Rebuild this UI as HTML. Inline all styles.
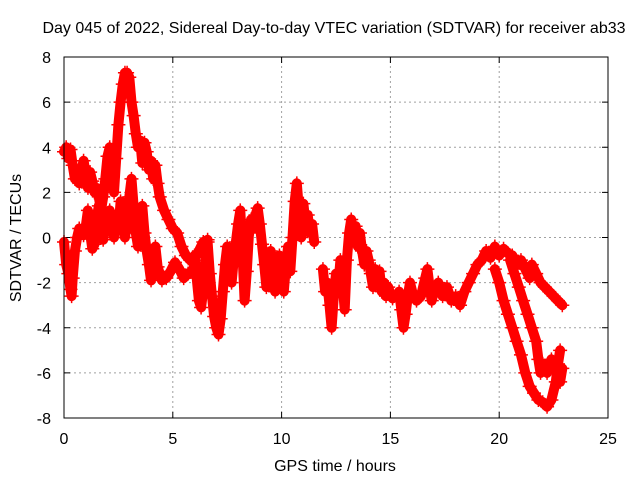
<!DOCTYPE html>
<html><head><meta charset="utf-8"><style>
body{margin:0;background:#fff;}
svg{display:block;font-family:"Liberation Sans",sans-serif;}
</style></head><body>
<svg id="chart" width="640" height="480" viewBox="0 0 640 480" xmlns="http://www.w3.org/2000/svg">
<rect x="0" y="0" width="640" height="480" fill="#fff"/>
<text x="334" y="33" text-anchor="middle" font-size="16">Day 045 of 2022, Sidereal Day-to-day VTEC variation (SDTVAR) for receiver ab33</text>
<text x="335" y="471" text-anchor="middle" font-size="16">GPS time / hours</text>
<text transform="translate(21,238) rotate(-90)" text-anchor="middle" font-size="16">SDTVAR / TECUs</text>
<g id="grid"></g><g id="ticks"></g><g id="marks"></g>
<rect x="64" y="57" width="544" height="361" fill="none" stroke="#000" stroke-width="1"/>
</svg>
<script>
const xTicks=[0,5,10,15,20,25];
const yTicks=[-8,-6,-4,-2,0,2,4,6,8];
const trace1=[[0,3.8],[0.1,4.0],[0.2,3.5],[0.3,3.9],[0.4,3.2],[0.5,2.6],[0.6,2.9],[0.7,2.4],[0.8,3.0],[0.9,3.4],[1.0,2.8],[1.1,2.2],[1.2,2.9],[1.3,2.5],[1.4,2.0],[1.5,2.2],[1.6,1.8],[1.7,1.2],[1.8,1.8],[1.9,2.6],[2.0,3.6],[2.1,4.0],[2.2,3.2],[2.3,2.0],[2.4,3.5],[2.5,5.0],[2.6,6.0],[2.7,6.8],[2.8,7.3],[2.9,7.3],[3.0,7.1],[3.1,6.0],[3.2,5.4],[3.3,4.6],[3.4,4.0],[3.5,4.3],[3.6,3.3],[3.7,4.2],[3.8,3.8],[3.9,3.0],[4.0,3.4],[4.1,2.6],[4.2,3.2],[4.3,2.4],[4.4,1.8],[4.6,1.2],[4.8,0.8],[5.0,0.4],[5.2,0.2],[5.4,-0.4],[5.6,-0.8],[5.8,-1.0],[6.0,-0.9],[6.2,-0.6],[6.4,-0.2],[6.6,-0.1]];
const trace2=[[0,-0.2],[0.1,-1.2],[0.2,-1.6],[0.3,-2.3],[0.35,-2.6],[0.4,-1.8],[0.5,-0.6],[0.6,0.0],[0.7,0.4],[0.8,0.2],[0.9,0.1],[1.0,0.5],[1.1,1.2],[1.2,0.2],[1.3,-0.5],[1.4,-0.3],[1.5,0.8],[1.6,1.4],[1.7,0.6],[1.8,-0.1],[1.9,0.8],[2.0,0.3],[2.1,1.2],[2.2,0.5],[2.3,0.0],[2.4,1.0],[2.5,0.3],[2.6,1.6],[2.7,0.8],[2.8,0.0],[2.9,0.6],[3.0,1.8],[3.1,2.6],[3.2,1.4],[3.3,0.2],[3.4,-0.4],[3.5,0.6],[3.6,1.4],[3.7,0.2],[3.8,-0.6],[3.9,-1.2],[4.0,-1.9],[4.1,-1.4],[4.2,-0.4],[4.3,-1.3],[4.5,-1.9],[4.7,-1.8],[4.9,-1.5],[5.1,-1.1],[5.3,-1.4],[5.5,-1.8],[5.7,-1.6],[5.9,-1.5],[6.0,-1.2]];
const trace3=[[6.0,-0.8],[6.1,-1.8],[6.2,-2.8],[6.3,-3.1],[6.4,-2.3],[6.5,-1.0],[6.6,-0.2],[6.7,-1.6],[6.8,-2.6],[6.9,-3.5],[7.0,-4.0],[7.1,-4.3],[7.2,-3.6],[7.3,-2.4],[7.4,-1.2],[7.5,-0.4],[7.6,-1.2],[7.7,-2.0],[7.8,-1.0],[7.9,-0.2],[8.0,0.6],[8.1,1.2],[8.2,-0.6],[8.3,-2.8],[8.4,-1.5],[8.5,0.2],[8.6,0.8],[8.7,0.4],[8.8,1.0],[8.9,1.3],[9.0,0.6],[9.1,-0.3],[9.2,-1.2],[9.3,-2.2],[9.4,-1.4],[9.5,-0.6],[9.6,-2.0],[9.7,-2.4],[9.8,-1.6],[9.9,-0.8],[10.0,-1.8],[10.1,-2.4],[10.2,-1.2],[10.3,-0.4],[10.4,-1.5],[10.5,0.0],[10.6,1.6],[10.7,2.4],[10.8,1.2],[10.9,0.0],[11.0,1.5],[11.1,0.6],[11.2,1.0],[11.3,0.2],[11.4,0.6],[11.5,-0.2]];
const trace4=[[11.9,-1.4],[12.0,-2.4],[12.1,-2.0],[12.2,-3.0],[12.3,-4.0],[12.4,-2.6],[12.5,-1.6],[12.6,-2.2],[12.7,-1.0],[12.8,-2.0],[12.9,-3.2],[13.0,-1.0],[13.1,0.2],[13.2,0.8],[13.3,0.0],[13.4,0.5],[13.5,-0.4],[13.6,0.2],[13.7,-0.6],[13.8,-1.2],[13.9,-0.6],[14.0,-1.0],[14.1,-1.6],[14.2,-2.2],[14.3,-1.4],[14.4,-2.0],[14.5,-1.5],[14.6,-2.4],[14.7,-2.0],[14.8,-2.6],[14.9,-2.2],[15.0,-2.5],[15.1,-2.7]];
const trace5=[[15.4,-2.4],[15.5,-3.2],[15.6,-4.0],[15.7,-3.4],[15.8,-2.6],[15.9,-2.0],[16.0,-2.4],[16.2,-2.8],[16.4,-2.6],[16.6,-1.8],[16.7,-1.4],[16.8,-2.2],[16.9,-2.8],[17.0,-2.4],[17.2,-2.0],[17.4,-2.6],[17.6,-2.2],[17.8,-2.8],[18.0,-2.6],[18.2,-3.0],[18.4,-2.4],[18.6,-2.0],[18.8,-1.6],[19.0,-1.2],[19.2,-1.0],[19.4,-0.6],[19.6,-0.9],[19.8,-0.4],[20.0,-0.8],[20.2,-0.5],[20.4,-0.7],[20.6,-0.8]];
const trace6=[[20.6,-0.8],[20.8,-1.2],[21.0,-1.0],[21.2,-1.4],[21.4,-1.8],[21.5,-1.2],[21.7,-1.6],[21.9,-2.0],[22.1,-2.2],[22.3,-2.4],[22.5,-2.6],[22.7,-2.8],[22.9,-3.0]];
const trace7=[[20.5,-1.0],[20.7,-1.6],[20.9,-2.2],[21.1,-2.8],[21.3,-3.4],[21.5,-4.0],[21.7,-4.6],[21.8,-5.4],[21.9,-6.0],[22.0,-5.6],[22.2,-6.0],[22.4,-5.4],[22.6,-5.8],[22.8,-6.4],[22.9,-5.8]];
const trace8=[[19.8,-1.4],[20.0,-2.0],[20.2,-2.8],[20.4,-3.4],[20.6,-4.0],[20.8,-4.6],[21.0,-5.2],[21.2,-6.0],[21.4,-6.6],[21.6,-6.9],[21.8,-7.2],[22.0,-7.3],[22.2,-7.5],[22.4,-7.2],[22.6,-6.4],[22.7,-5.6],[22.8,-5.0]];
const traces=[trace1,trace2,trace3,trace4,trace5,trace6,trace7,trace8];

const NS="http://www.w3.org/2000/svg";
const X0=64,X1=608,Y0=418,Y1=57;
function sx(h){return X0+(h-0)/(25-0)*(X1-X0);}
function sy(v){return Y0-(v+8)/16*(Y0-Y1);}
function mk(tag,attrs,parent){const e=document.createElementNS(NS,tag);for(const k in attrs)e.setAttribute(k,attrs[k]);parent.appendChild(e);return e;}
const grid=document.getElementById('grid'),ticks=document.getElementById('ticks'),marks=document.getElementById('marks');
xTicks.forEach(t=>{
  const x=sx(t);
  if(t>0&&t<25){const g=mk('line',{x1:x,x2:x,y1:Y0,y2:Y1,stroke:'#a0a0a0','stroke-dasharray':'2,3'},grid);
  
  }
  mk('line',{x1:x,x2:x,y1:Y0,y2:Y0-6,stroke:'#000'},ticks);
  mk('line',{x1:x,x2:x,y1:Y1,y2:Y1+6,stroke:'#000'},ticks);
  const l=mk('text',{x:x,y:444,'text-anchor':'middle','font-size':'16'},ticks);
  l.textContent=t;
  
  
});
yTicks.forEach(t=>{
  const y=sy(t);
  if(t>-8&&t<8){const g=mk('line',{x1:X0,x2:X1,y1:y,y2:y,stroke:'#a0a0a0','stroke-dasharray':'2,3'},grid);
  
  }
  mk('line',{x1:X0,x2:X0+6,y1:y,y2:y,stroke:'#000'},ticks);
  mk('line',{x1:X1,x2:X1-6,y1:y,y2:y,stroke:'#000'},ticks);
  const l=mk('text',{x:51,y:y+6,'text-anchor':'end','font-size':'16'},ticks);
  l.textContent=t;
  
  
});
traces.forEach((tr,i)=>{
  const pts=tr.map(p=>sx(p[0]).toFixed(1)+','+sy(p[1]).toFixed(1)).join(' ');
  const pl=mk('polyline',{points:pts,fill:'none',stroke:'#ff0000','stroke-width':'10','stroke-linejoin':'round','stroke-linecap':'round'},marks);
  
  
  tr.forEach(p=>{
    const x=sx(p[0]),y=sy(p[1]);
    const m=mk('path',{d:`M${x-7},${y}H${x+7}M${x},${y-7}V${y+7}`,stroke:'#ff0000','stroke-width':'1.5'},marks);
    
    
  });
});
</script>
</body></html>
